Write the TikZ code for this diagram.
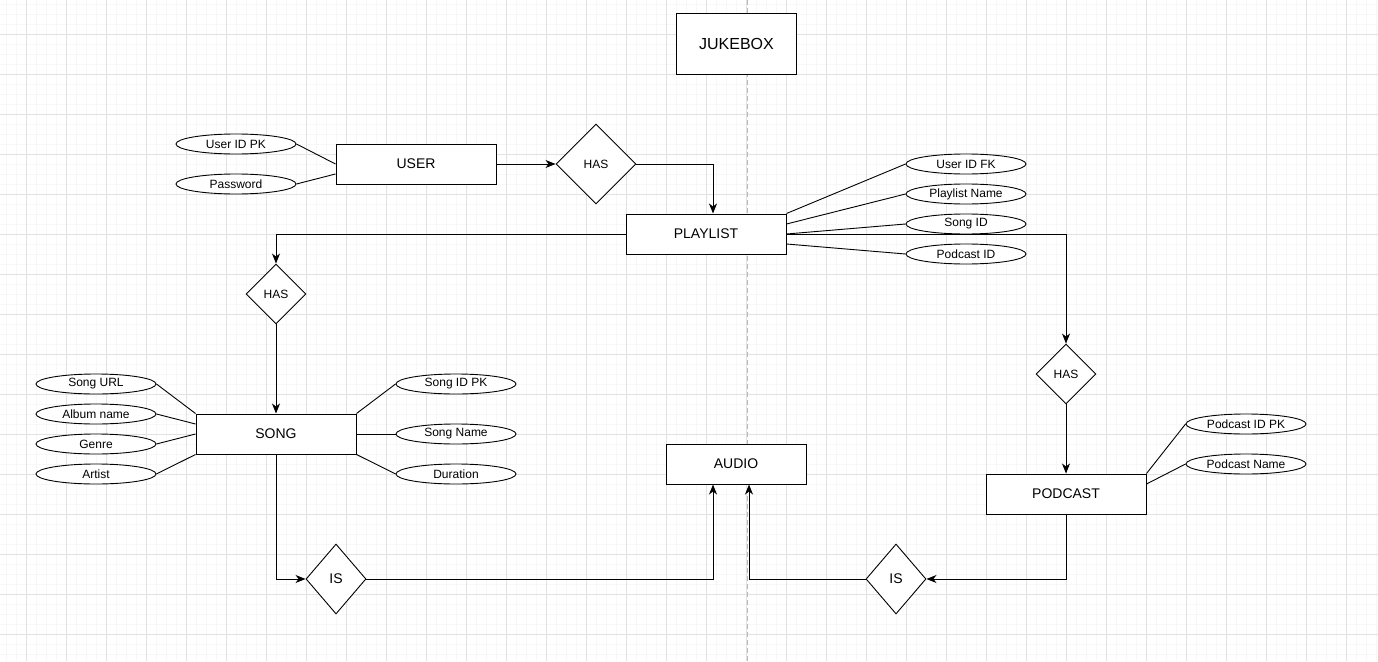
\documentclass[tikz,border=0pt]{standalone}
\usepackage{fontspec}
\setmainfont{Liberation Sans}
\usetikzlibrary{arrows.meta,shapes.geometric,calc}

\definecolor{gridmajor}{HTML}{E2E2E2}
\definecolor{gridminor}{HTML}{F7F7F7}
\definecolor{pagebreak}{HTML}{B8B8B8}

\begin{document}
\begin{tikzpicture}[x=1pt,y=-1pt,
  entity/.style={draw, fill=white, line width=1pt, minimum width=160pt,
    minimum height=40pt, inner sep=0pt, font=\fontsize{14}{16}\selectfont},
  attr/.style={ellipse, draw, fill=white, line width=0.9pt, minimum width=120pt,
    minimum height=20pt, inner sep=0pt, font=\fontsize{12}{14}\selectfont},
  rel/.style={diamond, draw, fill=white, line width=0.9pt, inner sep=0pt,
    minimum width=60pt, minimum height=60pt, font=\fontsize{12}{14}\selectfont},
  link/.style={line width=0.9pt},
  flow/.style={line width=1pt, -{Stealth[length=10pt,width=8pt,inset=3pt]}},
  minorline/.style={gridminor, line width=1pt},
  majorline/.style={gridmajor, line width=1pt},
]
\useasboundingbox (0,0) rectangle (1378,661);
\fill[white] (0,0) rectangle (1378,661);

% background grid
\foreach \i in {0,...,137} \draw[minorline] ({6.7+10*\i},0) -- ({6.7+10*\i},661);
\foreach \j in {0,...,66} \draw[minorline] (0,{4.3+10*\j}) -- (1378,{4.3+10*\j});
\foreach \i in {0,...,34} \draw[majorline] ({26.7+40*\i},0) -- ({26.7+40*\i},661);
\foreach \j in {0,...,16} \draw[majorline] (0,{34.3+40*\j}) -- (1378,{34.3+40*\j});

% page break
\draw[pagebreak, line width=1pt, dash pattern=on 5pt off 3pt] (747,0) -- (747,661);

% entities
\node[entity, minimum width=120pt, minimum height=60pt, font=\fontsize{16}{18}\selectfont] (jukebox) at (736.5,44) {JUKEBOX};
\node[entity] (user) at (416,164) {USER};
\node[entity] (playlist) at (706,234) {PLAYLIST};
\node[entity] (song) at (276,434) {SONG};
\node[entity, minimum width=140pt] (audio) at (736,464) {AUDIO};
\node[entity] (podcast) at (1066,494) {PODCAST};

% relationships
\node[rel, minimum width=80pt, minimum height=80pt] (has1) at (596,164) {HAS};
\node[rel] (hasL) at (276,294) {HAS};
\node[rel] (hasR) at (1066,374) {HAS};
\node[rel, minimum height=70pt, font=\fontsize{14}{16}\selectfont] (isL) at (336,579) {IS};
\node[rel, minimum height=70pt, font=\fontsize{14}{16}\selectfont] (isR) at (896,579) {IS};

% attributes
\node[attr] (uid) at (236,144) {User ID PK};
\node[attr] (pwd) at (236,184) {Password};
\node[attr] (uidfk) at (966,164) {User ID FK};
\node[attr] (plname) at (966,194) {Playlist Name};
\node[attr] (songid) at (966,224) {Song ID};
\node[attr] (podid) at (966,254) {Podcast ID};
\node[attr] (surl) at (96,384) {Song URL};
\node[attr] (album) at (96,414) {Album name};
\node[attr] (genre) at (96,444) {Genre};
\node[attr] (artist) at (96,474) {Artist};
\node[attr] (sidpk) at (456,384) {Song ID PK};
\node[attr] (sname) at (456,434) {Song Name};
\node[attr] (dur) at (456,474) {Duration};
\node[attr] (pidpk) at (1246,424) {Podcast ID PK};
\node[attr] (pname) at (1246,464) {Podcast Name};

% connection points
\coordinate (plin) at ($(playlist.north)+(7,0)$);
\coordinate (audL) at ($(audio.south)+(-23,0)$);
\coordinate (audR) at ($(audio.south)+(13,0)$);

% attribute links
\draw[link] (uid.east) -- (user.west);
\draw[link] (pwd.east) -- ($(user.west)+(0,10)$);
\draw[link] (uidfk.west) -- (playlist.north east);
\draw[link] (plname.west) -- ($(playlist.east)+(0,-10)$);
\draw[link] (songid.west) -- (playlist.east);
\draw[link] (podid.west) -- ($(playlist.east)+(0,10)$);
\draw[link] (surl.east) -- (song.north west);
\draw[link] (album.east) -- ($(song.west)+(0,-10)$);
\draw[link] (genre.east) -- (song.west);
\draw[link] (artist.east) -- (song.south west);
\draw[link] (sidpk.west) -- (song.north east);
\draw[link] (sname.west) -- (song.east);
\draw[link] (dur.west) -- (song.south east);
\draw[link] (pidpk.west) -- (podcast.north east);
\draw[link] (pname.west) -- ($(podcast.east)+(0,-10)$);

% relationship flows
\draw[flow] (user.east) -- (has1.west);
\draw[flow] (has1.east) -| (plin);
\draw[flow] (playlist.west) -| (hasL.north);
\draw[flow] (hasL.south) -- (song.north);
\draw[flow] (playlist.east) -| (hasR.north);
\draw[flow] (hasR.south) -- (podcast.north);
\draw[flow] (song.south) |- (isL.west);
\draw[flow] (isL.east) -| (audL);
\draw[flow] (podcast.south) |- (isR.east);
\draw[flow] (isR.west) -| (audR);
\end{tikzpicture}
\end{document}
